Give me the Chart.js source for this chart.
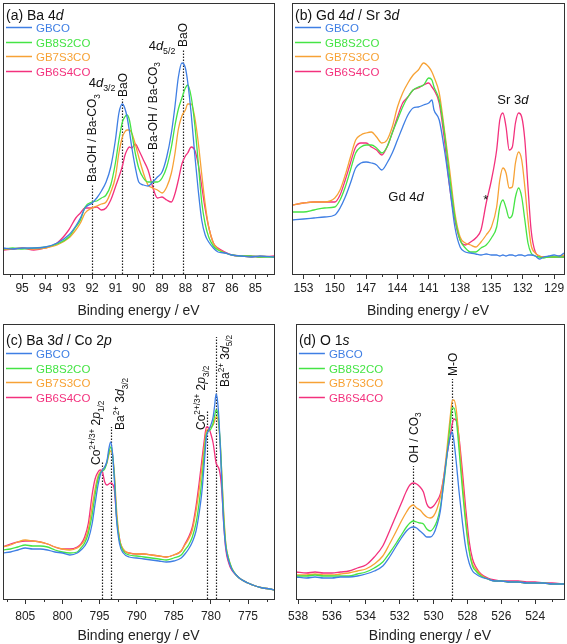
<!DOCTYPE html>
<html>
<head>
<meta charset="utf-8">
<script src="https://cdn.jsdelivr.net/npm/chart.js@4.4.1/dist/chart.umd.min.js"></script>
<style>
  body { margin: 0; background: #fff; width: 567px; height: 644px; position: relative; overflow: hidden; }
  canvas { position: absolute; }
</style>
</head>
<body>
<canvas id="ca" width="283" height="320" style="left:0;top:0"></canvas>
<canvas id="cb" width="284" height="320" style="left:283px;top:0"></canvas>
<canvas id="cc" width="283" height="324" style="left:0;top:320px"></canvas>
<canvas id="cd" width="284" height="324" style="left:283px;top:320px"></canvas>
<script>
// series
const seriesNames = ['GBCO', 'GB8S2CO', 'GB7S3CO', 'GB6S4CO'];
const seriesColors = ['#3f7fe4', '#45e445', '#f7a235', '#f3317d'];

// (a) Ba 4d
const energyA = [95.8, 95.4, 95.0, 94.5, 94.0, 93.5, 93.0, 92.7, 92.5, 92.3,
  92.0, 91.8, 91.6, 91.4, 91.2, 91.0, 90.85, 90.7, 90.6, 90.5,
  90.4, 90.3, 90.15, 90.0, 89.8, 89.6, 89.4, 89.2, 89.0, 88.8,
  88.6, 88.45, 88.3, 88.15, 88.0, 87.9, 87.75, 87.6, 87.45, 87.3,
  87.15, 87.0, 86.8, 86.6, 86.3, 86.0, 85.6, 85.2, 84.8, 84.2];
const gbcoA = [26, 25, 26, 26, 27, 31, 39, 48, 56, 66,
  71, 76, 83, 92, 107, 134, 161, 170, 166, 157,
  143, 127, 107, 92, 89, 88, 92, 97, 102, 117,
  141, 167, 197, 211, 206, 192, 160, 120, 84, 54,
  39, 32, 26, 22, 21, 19, 18, 17, 18, 17];
const gb8s2coA = [25, 26, 25, 26, 27, 30, 37, 47, 54, 67,
  72, 73, 76, 79, 89, 111, 134, 152, 157, 159,
  154, 141, 121, 106, 96, 92, 92, 92, 96, 107,
  127, 148, 165, 176, 186, 189, 177, 150, 112, 72,
  50, 37, 28, 24, 21, 19, 18, 18, 17, 17];
const gb7s3coA = [25, 25, 26, 25, 26, 29, 36, 44, 51, 61,
  66, 68, 70, 72, 82, 97, 121, 137, 142, 144,
  144, 141, 130, 117, 101, 89, 86, 84, 81, 87,
  101, 120, 145, 158, 164, 170, 170, 157, 132, 100,
  70, 47, 31, 25, 21, 19, 18, 17, 18, 17];
const gb6s4coA = [24, 25, 26, 24, 26, 31, 44, 56, 61, 66,
  66, 67, 64, 66, 74, 87, 97, 108, 118, 124,
  127, 126, 130, 124, 114, 104, 87, 76, 77, 74,
  72, 80, 94, 110, 118, 121, 127, 124, 110, 88,
  65, 47, 31, 26, 22, 19, 18, 18, 17, 18];

// (b) Gd 4d / Sr 3d
const energyB = [154.1, 153, 152, 151, 150, 149.5, 149, 148.5, 148, 147.5,
  147, 146.5, 146, 145.5, 145, 144.5, 144, 143.5, 143, 142.5,
  142, 141.5, 141, 140.7, 140.5, 140, 139.5, 139, 138.5, 138,
  137.5, 137, 136.5, 136, 135.5, 135, 134.5, 134.2, 133.9, 133.6,
  133.3, 133, 132.7, 132.4, 132.1, 131.8, 131.5, 131.2, 130.8, 130.4,
  130, 129.5, 129, 128.5, 128.05];
const gbcoB = [54, 55, 56, 57, 59, 66, 77, 91, 106, 111,
  112, 111, 109, 104, 111, 121, 134, 147, 159, 166,
  167, 169, 171, 174, 164, 154, 124, 87, 47, 27,
  22, 21, 20, 19, 20, 19, 19, 18, 19, 18,
  19, 19, 18, 19, 19, 18, 19, 19, 18, 15,
  17, 18, 19, 18, 21];
const gb8s2coB = [62, 62, 64, 66, 67, 74, 87, 104, 121, 127,
  129, 129, 126, 121, 127, 141, 154, 167, 177, 184,
  187, 189, 196, 194, 187, 174, 141, 97, 57, 34,
  26, 22, 22, 26, 29, 36, 47, 67, 74, 66,
  56, 59, 77, 86, 77, 54, 31, 21, 18, 17,
  16, 17, 17, 17, 17];
const gb7s3coB = [69, 71, 72, 72, 76, 84, 99, 117, 134, 139,
  141, 142, 137, 131, 134, 147, 167, 181, 191, 199,
  204, 211, 207, 202, 197, 181, 144, 104, 61, 37,
  31, 29, 27, 32, 39, 47, 67, 94, 106, 101,
  86, 87, 111, 122, 114, 87, 54, 29, 21, 18,
  17, 17, 17, 18, 19];
const gb6s4coB = [69, 71, 72, 72, 72, 79, 94, 111, 127, 131,
  131, 127, 124, 119, 127, 141, 157, 171, 177, 184,
  186, 189, 191, 187, 184, 171, 134, 87, 54, 34,
  29, 32, 36, 44, 71, 94, 124, 154, 161, 147,
  124, 127, 151, 161, 157, 134, 87, 44, 22, 18,
  17, 17, 17, 17, 17];

// (c) Ba 3d / Co 2p
const energyC = [808, 807, 806, 805, 804, 803, 802, 801, 800, 799,
  798, 797.5, 797, 796.5, 796, 795.6, 795.2, 794.9, 794.6, 794.3,
  794.0, 793.75, 793.5, 793.25, 793.0, 792.7, 792.3, 791.8, 791, 790,
  789, 788, 787, 786, 785, 784, 783.5, 783, 782.5, 782,
  781.6, 781.2, 780.9, 780.6, 780.3, 780.0, 779.7, 779.5, 779.3, 779.1,
  778.9, 778.7, 778.5, 778.3, 778.0, 777.6, 777.2, 776.6, 776, 775,
  774, 773, 772, 771.5];
const gbcoC = [46, 47, 49, 51, 50, 50, 49, 47, 46, 44,
  46, 49, 53, 60, 75, 95, 114, 124, 129, 132,
  138, 150, 157, 146, 119, 79, 55, 46, 42, 41,
  40, 39, 38, 37, 38, 41, 45, 50, 57, 68,
  85, 108, 135, 162, 169, 174, 182, 193, 205, 198,
  178, 146, 110, 78, 52, 38, 30, 24, 20, 16,
  13, 11, 10, 9];
const gb8s2coC = [49, 50, 52, 54, 53, 53, 52, 49, 47, 46,
  47, 51, 56, 66, 84, 104, 120, 126, 128, 130,
  137, 146, 152, 145, 122, 82, 58, 48, 44, 43,
  42, 41, 40, 39, 41, 44, 49, 54, 62, 76,
  95, 120, 145, 165, 168, 170, 176, 183, 189, 187,
  172, 152, 118, 85, 55, 40, 31, 24, 20, 16,
  13, 11, 10, 9];
const gb7s3coC = [52, 54, 57, 59, 58, 57, 55, 52, 50, 49,
  51, 54, 59, 70, 92, 110, 123, 127, 129, 132,
  136, 144, 148, 144, 126, 89, 60, 50, 46, 45,
  45, 44, 43, 42, 44, 48, 54, 60, 69, 88,
  108, 132, 152, 168, 170, 172, 174, 178, 182, 181,
  170, 149, 120, 90, 56, 40, 31, 24, 20, 16,
  13, 11, 10, 9];
const gb6s4coC = [52, 55, 57, 58, 58, 57, 55, 52, 50, 50,
  52, 55, 62, 76, 104, 120, 127, 129, 127, 117,
  114, 115, 116, 115, 109, 82, 60, 49, 46, 45,
  45, 44, 43, 42, 44, 48, 55, 62, 72, 93,
  115, 140, 158, 172, 171, 165, 156, 146, 136, 133,
  130, 122, 105, 79, 50, 36, 29, 24, 20, 16,
  13, 11, 10, 9];

// (d) O 1s
const energyD = [538.1, 537.5, 537, 536.5, 536, 535.5, 535, 534.5, 534, 533.5,
  533, 532.6, 532.2, 531.9, 531.6, 531.4, 531.2, 531.0, 530.8, 530.6,
  530.4, 530.2, 530.0, 529.8, 529.6, 529.4, 529.2, 529.0, 528.9, 528.8,
  528.65, 528.5, 528.3, 528.1, 527.9, 527.7, 527.5, 527.2, 526.8, 526.4,
  526, 525.5, 525, 524.5, 524, 523.5, 523, 522.3];
const gbcoD = [22, 21, 22, 21, 21, 22, 22, 23, 25, 28,
  33, 42, 53, 61, 68, 71, 72, 71, 68, 65,
  62, 62, 65, 74, 88, 118, 145, 163, 167, 158,
  135, 108, 77, 51, 36, 28, 25, 22, 20, 18,
  18, 17, 17, 16, 16, 16, 15, 15];
const gb8s2coD = [23, 23, 24, 23, 23, 23, 23, 25, 27, 31,
  37, 46, 56, 64, 72, 76, 78, 77, 76, 75,
  70, 68, 71, 78, 92, 115, 145, 178, 191, 191,
  178, 150, 110, 75, 48, 33, 28, 23, 20, 18,
  18, 17, 17, 16, 16, 16, 15, 15];
const gb7s3coD = [24, 24, 25, 24, 24, 25, 26, 28, 30, 35,
  43, 55, 68, 78, 87, 92, 94, 91, 89, 85,
  82, 81, 83, 90, 102, 122, 152, 185, 198, 199,
  188, 160, 118, 80, 50, 35, 30, 24, 20, 18,
  18, 17, 17, 16, 16, 16, 15, 15];
const gb6s4coD = [27, 26, 27, 26, 26, 27, 28, 31, 34, 42,
  53, 68, 84, 96, 108, 114, 116, 115, 112, 107,
  95, 91, 93, 98, 105, 122, 145, 165, 175, 180,
  178, 162, 128, 90, 58, 40, 32, 25, 21, 19,
  18, 18, 18, 17, 17, 16, 16, 15];

const FONT = '"Liberation Sans", Arial, Helvetica, sans-serif';
Chart.defaults.font.family = FONT;

// text pieces: [text, style] style = '' | 'i' | 'sub' | 'sup'
function segFont(s, size) {
  const small = s[1] === 'sub' || s[1] === 'sup';
  return (s[1] === 'i' ? 'italic ' : '') + (small ? size * 0.68 : size).toFixed(1) + 'px ' + FONT;
}
function drawRich(ctx, segs, x, y, size, align, color) {
  let w = 0;
  segs.forEach(s => { ctx.font = segFont(s, size); w += ctx.measureText(s[0]).width; });
  let cx = align === 'center' ? x - w / 2 : (align === 'right' ? x - w : x);
  ctx.fillStyle = color || '#111';
  ctx.textAlign = 'left';
  ctx.textBaseline = 'alphabetic';
  segs.forEach(s => {
    ctx.font = segFont(s, size);
    const dy = s[1] === 'sub' ? size * 0.28 : (s[1] === 'sup' ? -size * 0.42 : 0);
    ctx.fillText(s[0], cx, y + dy);
    cx += ctx.measureText(s[0]).width;
  });
}

const decor = {
  id: 'decor',
  beforeDatasetsDraw(chart, args, o) {
    const ctx = chart.ctx, area = chart.chartArea, xs = chart.scales.x, ys = chart.scales.y;
    ctx.save();
    ctx.strokeStyle = '#222';
    ctx.lineWidth = 1.2;
    ctx.setLineDash([1.5, 1.5]);
    (o.lines || []).forEach(l => {
      const px = Math.round(xs.getPixelForValue(l.x)) + 0.5;
      ctx.beginPath();
      ctx.moveTo(px, area.bottom);
      ctx.lineTo(px, ys.getPixelForValue(l.top));
      ctx.stroke();
    });
    ctx.restore();
  },
  afterDraw(chart, args, o) {
    const ctx = chart.ctx, area = chart.chartArea, xs = chart.scales.x, ys = chart.scales.y;
    ctx.save();
    // annotations
    (o.texts || []).forEach(t => {
      const px = xs.getPixelForValue(t.x), py = ys.getPixelForValue(t.y);
      const size = t.size || 12;
      if (t.rot) {
        ctx.save();
        ctx.translate(px, py);
        ctx.rotate(-Math.PI / 2);
        drawRich(ctx, t.segs, 0, size * 0.36, size, 'left');
        ctx.restore();
      } else {
        drawRich(ctx, t.segs, px, py, size, t.align || 'center');
      }
    });
    // minor ticks
    ctx.strokeStyle = '#333';
    ctx.lineWidth = 1;
    const st = o.minor;
    for (let v = Math.ceil(xs.min / st) * st; v <= xs.max; v += st) {
      const r = v / o.major;
      if (Math.abs(r - Math.round(r)) < 1e-6) continue;
      const px = Math.round(xs.getPixelForValue(v)) + 0.5;
      ctx.beginPath();
      ctx.moveTo(px, area.bottom);
      ctx.lineTo(px, area.bottom + 3);
      ctx.stroke();
    }
    // frame
    ctx.strokeRect(Math.round(area.left) + 0.5, Math.round(area.top) + 0.5,
      Math.round(area.width), Math.round(area.height));
    // axis title
    drawRich(ctx, [['Binding energy / eV', '']], (area.left + area.right) / 2, area.bottom + 41, 14, 'center', '#222');
    // panel title
    drawRich(ctx, o.title, area.left + 3, area.top + o.titleDy + 5, 14, 'left');
    // legend
    chart.data.datasets.forEach((ds, k) => {
      const y = Math.round(area.top + o.legendDy + k * 14.7) + 0.5;
      ctx.strokeStyle = ds.borderColor;
      ctx.lineWidth = 1.5;
      ctx.beginPath();
      ctx.moveTo(area.left + 3, y);
      ctx.lineTo(area.left + 29, y);
      ctx.stroke();
      drawRich(ctx, [[ds.label, '']], area.left + 33, y + 4, 11.5, 'left', ds.borderColor);
    });
    ctx.restore();
  }
};

function makePanel(id, energy, values, p) {
  const datasets = seriesNames.map((name, k) => ({
    label: name,
    data: energy.map((e, i) => ({ x: e, y: values[k][i] })),
    borderColor: seriesColors[k],
    borderWidth: 1.3,
    pointRadius: 0,
    cubicInterpolationMode: 'monotone',
    fill: false
  }));
  return new Chart(document.getElementById(id), {
    type: 'line',
    data: { datasets: datasets },
    options: {
      responsive: false,
      animation: false,
      devicePixelRatio: 1,
      layout: { padding: p.padding },
      plugins: {
        legend: { display: false },
        tooltip: { enabled: false },
        decor: p.decor
      },
      scales: {
        x: {
          type: 'linear',
          reverse: true,
          min: p.min,
          max: p.max,
          afterFit: function (scale) { scale.height = p.axisH; },
          ticks: {
            stepSize: p.decor.major,
            includeBounds: false,
            autoSkip: false,
            maxRotation: 0,
            color: '#222',
            padding: p.tickPad,
            font: { size: 12 }
          },
          grid: { drawOnChartArea: false, drawTicks: true, tickLength: 5, color: '#333' },
          border: { display: false },
          title: { display: false }
        },
        y: { display: false, min: 0, max: p.ymax }
      }
    },
    plugins: [decor]
  });
}

makePanel('ca', energyA, [gbcoA, gb8s2coA, gb7s3coA, gb6s4coA], {
  min: 84.2, max: 95.82, ymax: 271, axisH: 46,
  padding: { left: 3, right: 9, top: 3, bottom: 0 }, tickPad: 2,
  decor: {
    major: 1, minor: 0.5, titleDy: 12, legendDy: 24,
    title: [['(a) Ba 4', ''], ['d', 'i']],
    lines: [{ x: 92.0, top: 90 }, { x: 90.7, top: 175 }, { x: 89.4, top: 122 }, { x: 88.1, top: 225 }],
    texts: [
      { rot: true, x: 92.0, y: 92, segs: [['Ba-OH / Ba-CO', ''], ['3', 'sub']] },
      { rot: true, x: 90.7, y: 177, segs: [['BaO', '']] },
      { x: 91.0, y: 187, align: 'right', size: 13, segs: [['4', ''], ['d', 'i'], ['3/2', 'sub']] },
      { rot: true, x: 89.4, y: 124, segs: [['Ba-OH / Ba-CO', ''], ['3', 'sub']] },
      { rot: true, x: 88.1, y: 227, segs: [['BaO', '']] },
      { x: 88.43, y: 224, align: 'right', size: 13, segs: [['4', ''], ['d', 'i'], ['5/2', 'sub']] }
    ]
  }
});

makePanel('cb', energyB, [gbcoB, gb8s2coB, gb7s3coB, gb6s4coB], {
  min: 128.05, max: 154.1, ymax: 271, axisH: 46,
  padding: { left: 9, right: 3, top: 3, bottom: 0 }, tickPad: 2,
  decor: {
    major: 3, minor: 1.5, titleDy: 12, legendDy: 24,
    title: [['(b) Gd 4', ''], ['d', 'i'], [' / Sr 3', ''], ['d', 'i']],
    lines: [],
    texts: [
      { x: 143.18, y: 73, size: 13, segs: [['Gd 4', ''], ['d', 'i']] },
      { x: 132.95, y: 170, size: 13, segs: [['Sr 3', ''], ['d', 'i']] },
      { x: 135.53, y: 70, size: 13, segs: [['*', '']] }
    ]
  }
});

makePanel('cc', energyC, [gbcoC, gb8s2coC, gb7s3coC, gb6s4coC], {
  min: 771.5, max: 808.0, ymax: 275, axisH: 45,
  padding: { left: 3, right: 9, top: 4, bottom: 0 }, tickPad: 5,
  decor: {
    major: 5, minor: 2.5, titleDy: 16, legendDy: 29,
    title: [['(c) Ba 3', ''], ['d', 'i'], [' / Co 2', ''], ['p', 'i']],
    lines: [{ x: 794.6, top: 138 }, { x: 793.5, top: 172 }, { x: 780.5, top: 189 }, { x: 779.3, top: 262 }],
    texts: [
      { rot: true, x: 795.46, y: 134, segs: [['Co', ''], ['2+/3+', 'sup'], [' 2', ''], ['p', 'i'], ['1/2', 'sub']] },
      { rot: true, x: 792.24, y: 169, segs: [['Ba', ''], ['2+', 'sup'], [' 3', ''], ['d', 'i'], ['3/2', 'sub']] },
      { rot: true, x: 781.35, y: 169, segs: [['Co', ''], ['2+/3+', 'sup'], [' 2', ''], ['p', 'i'], ['3/2', 'sub']] },
      { rot: true, x: 778.13, y: 212, segs: [['Ba', ''], ['2+', 'sup'], [' 3', ''], ['d', 'i'], ['5/2', 'sub']] }
    ]
  }
});

makePanel('cd', energyD, [gbcoD, gb8s2coD, gb7s3coD, gb6s4coD], {
  min: 522.3, max: 538.13, ymax: 275, axisH: 45,
  padding: { left: 9, right: 3, top: 4, bottom: 0 }, tickPad: 5,
  decor: {
    major: 2, minor: 1, titleDy: 16, legendDy: 29,
    title: [['(d) O 1', ''], ['s', 'i']],
    lines: [{ x: 531.2, top: 133 }, { x: 528.9, top: 220 }],
    texts: [
      { rot: true, x: 531.2, y: 136, segs: [['OH / CO', ''], ['3', 'sub']] },
      { rot: true, x: 528.9, y: 223, segs: [['M-O', '']] }
    ]
  }
});
</script>
</body>
</html>
